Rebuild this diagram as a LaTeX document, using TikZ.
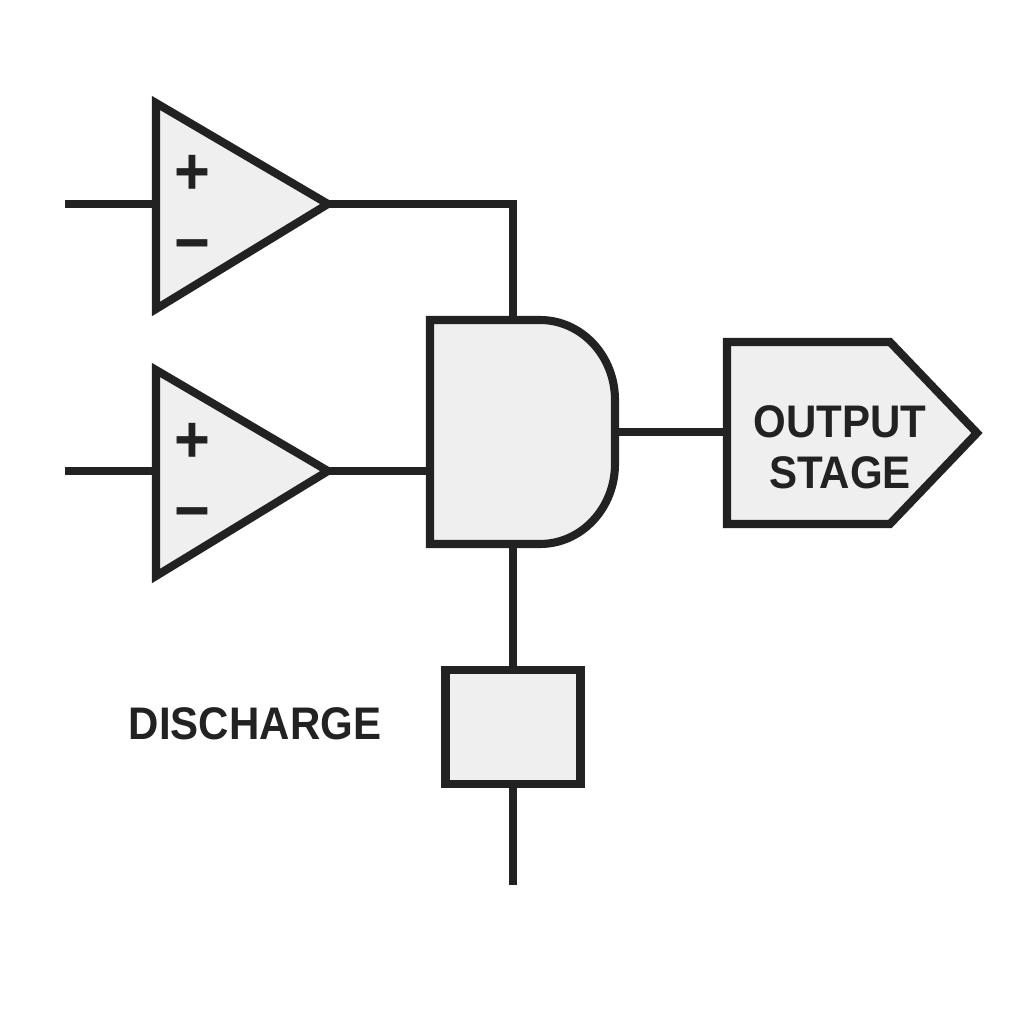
\documentclass[tikz,border=0pt]{standalone}
\usepackage{fontspec}
\setmainfont[FakeStretch=0.92]{Liberation Sans}
\usepackage{tikz}
\usetikzlibrary{positioning}
\definecolor{inkgray}{HTML}{222222}
\definecolor{bodygray}{HTML}{EFEFEF}
\tikzset{
  part/.style={draw=inkgray, fill=bodygray, line width=2.3pt, miter limit=10},
  wire/.style={draw=inkgray, line width=2.1pt},
  tag/.style={text=inkgray, font=\fontsize{13}{14.5}\selectfont\bfseries, align=center},
  sign/.style={text=inkgray, font=\fontsize{19}{19}\selectfont\bfseries, inner sep=0pt}
}

\begin{document}
\begin{tikzpicture}
    \useasboundingbox (0,0) rectangle (10.24,10.24);

    % free ends of the wires
    \coordinate (in1) at (0.65, 8.20);
    \coordinate (in2) at (0.65, 5.53);
    \coordinate (out) at (5.13, 1.39);

    % draw the first comparator
    \coordinate (amp1top) at (1.56, 9.21);
    \coordinate (amp1bot) at (1.56, 7.15);
    \coordinate (amp1tip) at (3.28, 8.20);
    \coordinate (amp1in) at (1.56, 8.20);
    \draw [part] (amp1top) -- (amp1tip) -- (amp1bot) -- cycle;
    \node [sign] (plus1) at (1.92, 8.49) {+};
    \node [sign] (minus1) at (1.92, 7.71) {−};

    % draw the second comparator
    \coordinate (amp2top) at (1.56, 6.54);
    \coordinate (amp2bot) at (1.56, 4.48);
    \coordinate (amp2tip) at (3.28, 5.53);
    \coordinate (amp2in) at (1.56, 5.53);
    \draw [part] (amp2top) -- (amp2tip) -- (amp2bot) -- cycle;
    \node [sign] (plus2) at (1.92, 5.81) {+};
    \node [sign] (minus2) at (1.92, 5.03) {−};

    % draw the and gate
    \coordinate (gatetop) at (5.13, 7.04);
    \coordinate (gatebot) at (5.13, 4.80);
    \coordinate (gatein) at (4.30, 5.53);
    \coordinate (gateout) at (6.15, 5.92);
    \draw [part] (4.30, 7.04) -- (5.40, 7.04)
        arc [start angle=90, end angle=0, x radius=0.75, y radius=0.80]
        -- (6.15, 5.60)
        arc [start angle=0, end angle=-90, x radius=0.75, y radius=0.80]
        -- (4.30, 4.80) -- cycle;

    % draw the output stage
    \coordinate (stagein) at (7.27, 5.92);
    \draw [part] (7.27, 6.82) -- (8.90, 6.82) -- (9.77, 5.91)
        -- (8.90, 5.00) -- (7.27, 5.00) -- cycle;
    \node [tag] (stage) at (8.40, 5.77) {OUTPUT\\STAGE};

    % draw the discharge block
    \node [part, minimum width=1.35cm, minimum height=1.14cm, inner sep=0pt] (block) at (5.13, 2.97) {};
    \node [tag] (discharge) at (2.55, 3.00) {DISCHARGE};

    % draw the wires
    \draw [wire] (in1) -- (amp1in);
    \draw [wire] (in2) -- (amp2in);
    \draw [wire] (amp1tip) -| (gatetop);
    \draw [wire] (amp2tip) -- (gatein);
    \draw [wire] (gateout) -- (stagein);
    \draw [wire] (gatebot) -- (block.north);
    \draw [wire] (block.south) -- (out);
\end{tikzpicture}
\end{document}
